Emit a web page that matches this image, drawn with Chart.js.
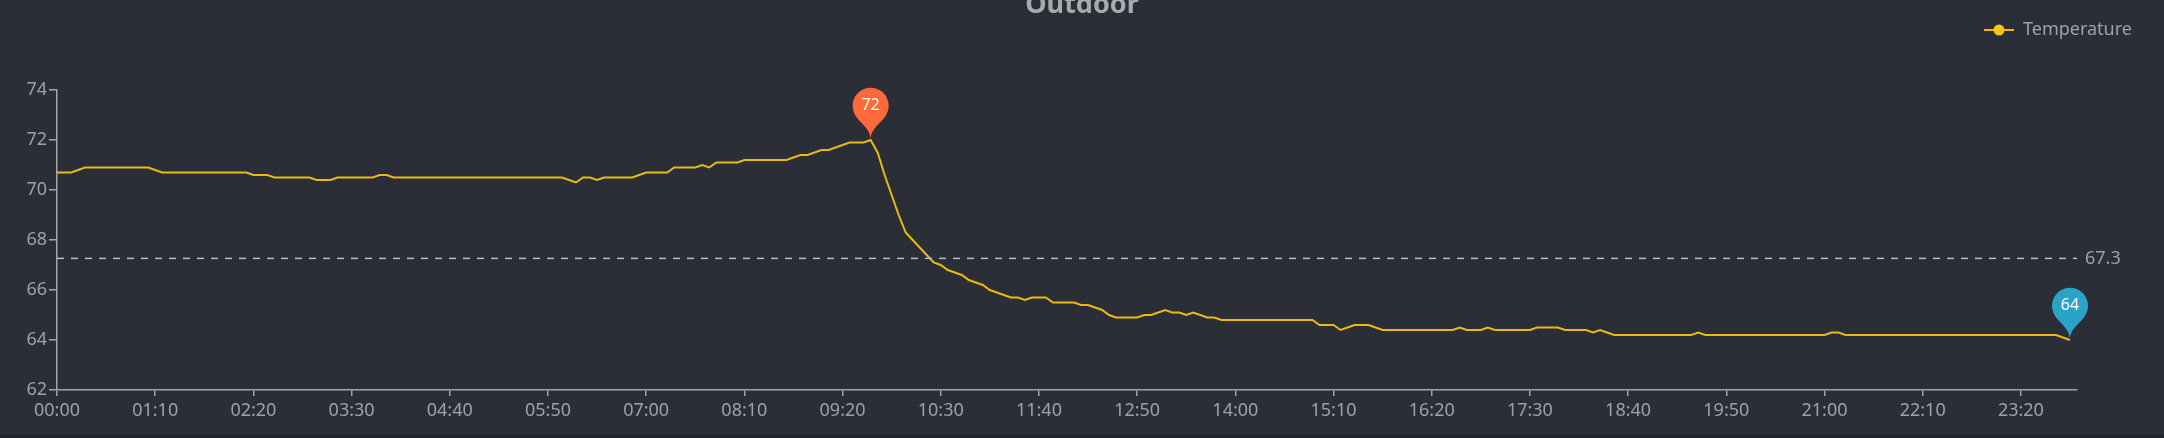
<!DOCTYPE html>
<html>
<head>
<meta charset="utf-8">
<script src="https://cdn.jsdelivr.net/npm/chart.js@4.4.1/dist/chart.umd.min.js"></script>
<style>
  html, body { margin: 0; padding: 0; background: #24262d; }
  #wrap { width: 2164px; height: 435px; background: #2b2e37; }
</style>
</head>
<body>
<div id="wrap"><canvas id="outdoorChart" width="2164" height="435"></canvas></div>
<script>
// 5-minute readings, 00:00 .. 23:55 (the axis runs on to 24:00)
const chartTitle = 'Outdoor';
const seriesName = 'Temperature';
const temperature = [
  70.7, 70.7, 70.7, 70.8, 70.9, 70.9, 70.9, 70.9, 70.9, 70.9, 70.9, 70.9,
  70.9, 70.9, 70.8, 70.7, 70.7, 70.7, 70.7, 70.7, 70.7, 70.7, 70.7, 70.7,
  70.7, 70.7, 70.7, 70.7, 70.6, 70.6, 70.6, 70.5, 70.5, 70.5, 70.5, 70.5,
  70.5, 70.4, 70.4, 70.4, 70.5, 70.5, 70.5, 70.5, 70.5, 70.5, 70.6, 70.6,
  70.5, 70.5, 70.5, 70.5, 70.5, 70.5, 70.5, 70.5, 70.5, 70.5, 70.5, 70.5,
  70.5, 70.5, 70.5, 70.5, 70.5, 70.5, 70.5, 70.5, 70.5, 70.5, 70.5, 70.5,
  70.5, 70.4, 70.3, 70.5, 70.5, 70.4, 70.5, 70.5, 70.5, 70.5, 70.5, 70.6,
  70.7, 70.7, 70.7, 70.7, 70.9, 70.9, 70.9, 70.9, 71.0, 70.9, 71.1, 71.1,
  71.1, 71.1, 71.2, 71.2, 71.2, 71.2, 71.2, 71.2, 71.2, 71.3, 71.4, 71.4,
  71.5, 71.6, 71.6, 71.7, 71.8, 71.9, 71.9, 71.9, 72.0, 71.5, 70.6, 69.8,
  69.0, 68.3, 68.0, 67.7, 67.4, 67.1, 67.0, 66.8, 66.7, 66.6, 66.4, 66.3,
  66.2, 66.0, 65.9, 65.8, 65.7, 65.7, 65.6, 65.7, 65.7, 65.7, 65.5, 65.5,
  65.5, 65.5, 65.4, 65.4, 65.3, 65.2, 65.0, 64.9, 64.9, 64.9, 64.9, 65.0,
  65.0, 65.1, 65.2, 65.1, 65.1, 65.0, 65.1, 65.0, 64.9, 64.9, 64.8, 64.8,
  64.8, 64.8, 64.8, 64.8, 64.8, 64.8, 64.8, 64.8, 64.8, 64.8, 64.8, 64.8,
  64.6, 64.6, 64.6, 64.4, 64.5, 64.6, 64.6, 64.6, 64.5, 64.4, 64.4, 64.4,
  64.4, 64.4, 64.4, 64.4, 64.4, 64.4, 64.4, 64.4, 64.5, 64.4, 64.4, 64.4,
  64.5, 64.4, 64.4, 64.4, 64.4, 64.4, 64.4, 64.5, 64.5, 64.5, 64.5, 64.4,
  64.4, 64.4, 64.4, 64.3, 64.4, 64.3, 64.2, 64.2, 64.2, 64.2, 64.2, 64.2,
  64.2, 64.2, 64.2, 64.2, 64.2, 64.2, 64.3, 64.2, 64.2, 64.2, 64.2, 64.2,
  64.2, 64.2, 64.2, 64.2, 64.2, 64.2, 64.2, 64.2, 64.2, 64.2, 64.2, 64.2,
  64.2, 64.3, 64.3, 64.2, 64.2, 64.2, 64.2, 64.2, 64.2, 64.2, 64.2, 64.2,
  64.2, 64.2, 64.2, 64.2, 64.2, 64.2, 64.2, 64.2, 64.2, 64.2, 64.2, 64.2,
  64.2, 64.2, 64.2, 64.2, 64.2, 64.2, 64.2, 64.2, 64.2, 64.2, 64.1, 64.0
];
const yTicks = [62, 64, 66, 68, 70, 72, 74];
const labelEvery = 14; // one label per 70 minutes

// category labels 00:00 .. 24:00 every 5 minutes
const times = [];
for (let m = 0; m <= 24 * 60; m += 5) {
    const hh = String(Math.floor(m / 60)).padStart(2, '0');
    const mm = String(m % 60).padStart(2, '0');
    times.push(hh + ':' + mm);
}

const FONT = '"Noto Sans", "DejaVu Sans", sans-serif';
const lineColor = '#e9b915';
const axisColor = '#a3a4a8';
const textColor = '#a0a1a6';

function drawPin(ctx, x, y, color, text) {
    // same teardrop as the echarts "pin" symbol, tip on the point
    const w = 60 / 5 * 3, h = Math.max(w, 60), r = w / 2;
    const dy = r * r / (h - r);
    const cy = y - h + r + dy;
    const angle = Math.asin(dy / r);
    const dx = Math.cos(angle) * r;
    const tanX = Math.sin(angle), tanY = Math.cos(angle);
    const cpLen = r * 0.6, cpLen2 = r * 0.7;
    ctx.beginPath();
    ctx.moveTo(x - dx, cy + dy);
    ctx.arc(x, cy, r, Math.PI - angle, Math.PI * 2 + angle);
    ctx.bezierCurveTo(x + dx - tanX * cpLen, cy + dy + tanY * cpLen, x, y - cpLen2, x, y);
    ctx.bezierCurveTo(x, y - cpLen2, x - dx + tanX * cpLen, cy + dy + tanY * cpLen, x - dx, cy + dy);
    ctx.closePath();
    ctx.fillStyle = color;
    ctx.fill();
    ctx.fillStyle = '#ffffff';
    ctx.font = '16px ' + FONT;
    ctx.textAlign = 'center';
    ctx.textBaseline = 'middle';
    ctx.fillText(text, x, cy);
}

const decorations = {
    id: 'decorations',
    afterDatasetsDraw(chart) {
        const { ctx, chartArea, scales: { x, y } } = chart;
        ctx.save();

        // average mark line
        const avg = temperature.reduce((a, b) => a + b, 0) / temperature.length;
        const ya = y.getPixelForValue(avg);
        ctx.strokeStyle = '#b9babe';
        ctx.lineWidth = 1.5;
        ctx.setLineDash([7, 7]);
        ctx.beginPath();
        ctx.moveTo(chartArea.left, ya);
        ctx.lineTo(chartArea.right, ya);
        ctx.stroke();
        ctx.setLineDash([]);
        ctx.fillStyle = textColor;
        ctx.font = '18px ' + FONT;
        ctx.textAlign = 'left';
        ctx.textBaseline = 'middle';
        ctx.fillText(avg.toFixed(1), chartArea.right + 8, ya);

        // max / min pins
        const maxV = Math.max(...temperature);
        const minV = Math.min(...temperature);
        const iMax = temperature.indexOf(maxV);
        const iMin = temperature.lastIndexOf(minV);
        drawPin(ctx, x.getPixelForValue(iMax), y.getPixelForValue(maxV), '#fd693b', String(Math.round(maxV)));
        drawPin(ctx, x.getPixelForValue(iMin), y.getPixelForValue(minV), '#2ba3c8', String(Math.round(minV)));
        ctx.restore();
    },
    afterDraw(chart) {
        const { ctx } = chart;
        ctx.save();
        // title, partly above the top edge as in the original
        ctx.fillStyle = '#a9aaae';
        ctx.font = 'bold 27px ' + FONT;
        ctx.textAlign = 'center';
        ctx.textBaseline = 'alphabetic';
        ctx.fillText(chartTitle, chart.width / 2, 13);

        // legend at top right
        const lx = 1984, ly = 30;
        ctx.strokeStyle = lineColor;
        ctx.lineWidth = 2;
        ctx.beginPath();
        ctx.moveTo(lx, ly);
        ctx.lineTo(lx + 30, ly);
        ctx.stroke();
        ctx.fillStyle = '#f5c518';
        ctx.beginPath();
        ctx.arc(lx + 15, ly, 5.5, 0, Math.PI * 2);
        ctx.fill();
        ctx.fillStyle = textColor;
        ctx.font = '18px ' + FONT;
        ctx.textAlign = 'left';
        ctx.textBaseline = 'middle';
        ctx.fillText(seriesName, lx + 39, ly);
        ctx.restore();
    }
};

new Chart(document.getElementById('outdoorChart'), {
    type: 'line',
    data: {
        labels: times,
        datasets: [{
            label: seriesName,
            data: temperature,
            borderColor: lineColor,
            borderWidth: 2,
            pointRadius: 0,
            tension: 0,
            fill: false
        }]
    },
    options: {
        responsive: false,
        animation: false,
        devicePixelRatio: 1,
        layout: { padding: { top: 90, right: 87, left: 0, bottom: 0 } },
        plugins: {
            legend: { display: false },
            title: { display: false },
            tooltip: { enabled: false }
        },
        scales: {
            x: {
                type: 'category',
                offset: false,
                border: { color: axisColor, width: 1.5 },
                grid: { drawOnChartArea: false, tickLength: 6, color: axisColor, lineWidth: 1.5 },
                ticks: {
                    autoSkip: false,
                    maxRotation: 0,
                    padding: 4,
                    color: textColor,
                    font: { family: FONT, size: 18 },
                    callback: (v, i) => (i % labelEvery === 0 ? times[i] : null)
                },
                afterFit: s => { s.height = 45; }
            },
            y: {
                min: yTicks[0],
                max: yTicks[yTicks.length - 1],
                border: { color: axisColor, width: 1.5 },
                grid: { drawOnChartArea: false, tickLength: 8, color: axisColor, lineWidth: 1.5 },
                afterBuildTicks: s => { s.ticks = yTicks.map(v => ({ value: v })); },
                ticks: {
                    padding: 2,
                    color: textColor,
                    font: { family: FONT, size: 18 }
                },
                afterFit: s => { s.width = 57; }
            }
        }
    },
    plugins: [decorations]
});
</script>
</body>
</html>
